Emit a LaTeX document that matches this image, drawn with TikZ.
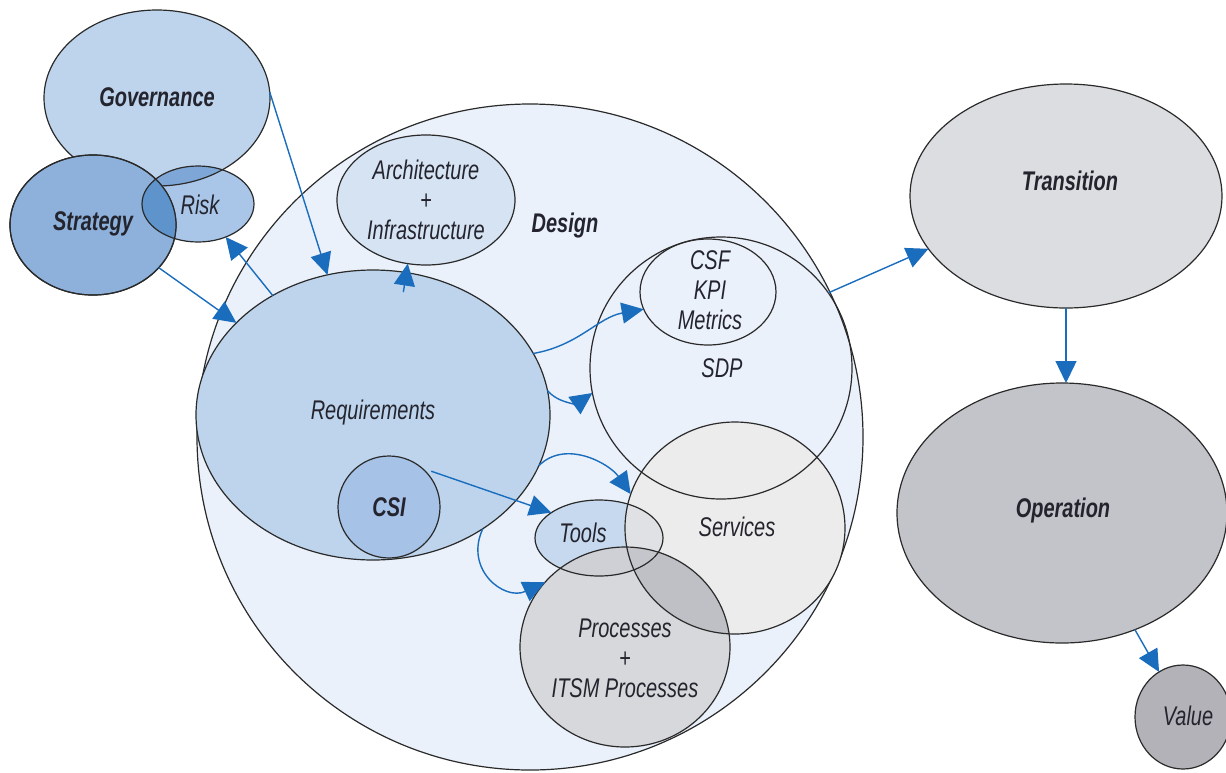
\documentclass[tikz,border=0pt]{standalone}
\usepackage{fontspec}
\usetikzlibrary{shapes.geometric,arrows.meta}
\newfontfamily\lblfont{Liberation Sans}[FakeStretch=0.74]

\definecolor{outline}{HTML}{2A2A2A}
\definecolor{labeltext}{HTML}{24242E}
\definecolor{linkblue}{HTML}{1A6DBD}
\definecolor{designfill}{HTML}{EAF1FA}
\definecolor{govfill}{HTML}{BED4EC}
\definecolor{stratfill}{HTML}{8DB1DB}
\definecolor{riskfill}{HTML}{A9C5E7}
\definecolor{govrisk}{HTML}{7EA7D8}
\definecolor{stratrisk}{HTML}{5E93CB}
\definecolor{archfill}{HTML}{D6E3F3}
\definecolor{reqfill}{HTML}{BDD4EC}
\definecolor{csifill}{HTML}{A6C2E6}
\definecolor{servfill}{HTML}{ECECED}
\definecolor{toolfill}{HTML}{C7D9EF}
\definecolor{procfill}{HTML}{D7D8DC}
\definecolor{toolserv}{HTML}{E0E1E4}
\definecolor{toolproc}{HTML}{CFD0D5}
\definecolor{servproc}{HTML}{BFC0C6}
\definecolor{allthree}{HTML}{C5C6CB}
\definecolor{transfill}{HTML}{DCDDE1}
\definecolor{opfill}{HTML}{C3C4C9}
\definecolor{valfill}{HTML}{B3B2B8}

\begin{document}
\begin{tikzpicture}[x=1pt,y=-1pt,
  blob/.style={ellipse, inner sep=0pt, outer sep=0pt, line width=1.2pt, draw=outline},
  rim/.style={draw=outline, line width=1.2pt},
  lbl/.style={font={\lblfont\itshape\fontsize{27}{30}\selectfont}, text=labeltext, align=center, inner sep=0pt},
  blbl/.style={lbl, font={\lblfont\bfseries\itshape\fontsize{27}{30}\selectfont}},
  link/.style={draw=linkblue, line width=1.4pt, -{Triangle[length=22pt,width=21pt]}}
]
\useasboundingbox (0,0) rectangle (1226,772);

% ---- Design area ----
\node[blob, fill=designfill, minimum width=666, minimum height=666] (design) at (530,437) {};

% ---- Governance / Risk / Strategy cluster ----
\node[blob, fill=govfill, minimum width=226, minimum height=176] (gov) at (157,98) {};
\fill[riskfill] (198,204) ellipse [x radius=56, y radius=38];
\begin{scope}
  \clip (157,98) ellipse [x radius=113, y radius=88];
  \fill[govrisk] (198,204) ellipse [x radius=56, y radius=38];
\end{scope}
\begin{scope}
  \clip (198,204) ellipse [x radius=56, y radius=38];
  \draw[rim] (157,98) ellipse [x radius=113, y radius=88];
\end{scope}
\node[blob, fill=stratfill, minimum width=166, minimum height=140] (strat) at (93,225) {};
\begin{scope}
  \clip (93,225) ellipse [x radius=83, y radius=70];
  \fill[stratrisk] (198,204) ellipse [x radius=56, y radius=38];
\end{scope}
\draw[rim] (93,225) ellipse [x radius=83, y radius=70];
\node[blob, minimum width=112, minimum height=76] (risk) at (198,204) {};

% ---- inside Design ----
\node[blob, fill=archfill, minimum width=178, minimum height=130] (arch) at (426,200) {};
\node[blob, fill=reqfill, minimum width=354, minimum height=290] (req) at (373,415) {};
\node[blob, fill=csifill, minimum width=102, minimum height=102] (csi) at (389,507) {};

% services / tools / processes with shaded overlaps
\fill[servfill] (735,528) ellipse [x radius=110, y radius=106];
\fill[toolfill] (599,538) ellipse [x radius=64, y radius=38];
\fill[procfill] (625,647) ellipse [x radius=105, y radius=100];
\begin{scope}
  \clip (735,528) ellipse [x radius=110, y radius=106];
  \fill[toolserv] (599,538) ellipse [x radius=64, y radius=38];
  \fill[servproc] (625,647) ellipse [x radius=105, y radius=100];
\end{scope}
\begin{scope}
  \clip (599,538) ellipse [x radius=64, y radius=38];
  \fill[toolproc] (625,647) ellipse [x radius=105, y radius=100];
  \clip (735,528) ellipse [x radius=110, y radius=106];
  \fill[allthree] (625,647) ellipse [x radius=105, y radius=100];
\end{scope}

\node[blob, minimum width=262, minimum height=262] (sdp) at (721,368) {};
\node[blob, minimum width=136, minimum height=106] (csf) at (708,292) {};
\node[blob, minimum width=220, minimum height=212] (serv) at (735,528) {};
\node[blob, minimum width=128, minimum height=76] (tools) at (599,538) {};
\node[blob, minimum width=210, minimum height=200] (proc) at (625,647) {};

% ---- lifecycle stages on the right ----
\node[blob, fill=transfill, minimum width=312, minimum height=224] (trans) at (1066,196) {};
\node[blob, fill=opfill, minimum width=330, minimum height=260] (op) at (1062,513) {};
\node[blob, fill=valfill, minimum width=96, minimum height=104] (val) at (1183,717) {};

% ---- connectors ----
\draw[link] (gov.3) -- (req.108);
\draw[link] (strat.-33) -- (req.146);
\draw[link] (req.130) -- (risk.-50);
\draw[link] ([yshift=-20pt]req.78) -- (arch.-106);
\draw[link] (req.21) to[out=10, in=190] (csf.195);
\draw[link] (req.8) to[out=-50, in=215] (sdp.191);
\draw[link] (req.-17) to[out=45, in=125] (serv.162);
\draw[link, shorten <=10pt] (csi.50) -- (tools.152);
\draw[link] (req.-46) to[out=-115, in=205, looseness=1.4] (proc.141);
\draw[link] (sdp.35) -- (trans.201);
\draw[link] (trans.south) -- (trans.south |- op.north);
\draw[link] (op.-58) -- (val.118);

% ---- labels ----
\node[blbl] (govlbl) at (157,97) {Governance};
\node[blbl] (stratlbl) at (93,224) {Strategy};
\node[lbl] (risklbl) at (200,205) {Risk};
\node[lbl] (archlbl) at (426,200) {Architecture\\+\\Infrastructure};
\node[blbl] (designlbl) at (565,226) {Design};
\node[lbl] (reqlbl) at (373,413) {Requirements};
\node[blbl] (csilbl) at (389,507) {CSI};
\node[lbl] (csflbl) at (710,290) {CSF\\KPI\\Metrics};
\node[lbl] (sdplbl) at (722,368) {SDP};
\node[lbl] (servlbl) at (737,527) {Services};
\node[lbl] (toolslbl) at (583,533) {Tools};
\node[lbl] (proclbl) at (625,658) {Processes\\+\\ITSM Processes};
\node[blbl] (translbl) at (1070,181) {Transition};
\node[blbl] (oplbl) at (1063,511) {Operation};
\node[lbl] (vallbl) at (1188,716) {Value};
\end{tikzpicture}
\end{document}
